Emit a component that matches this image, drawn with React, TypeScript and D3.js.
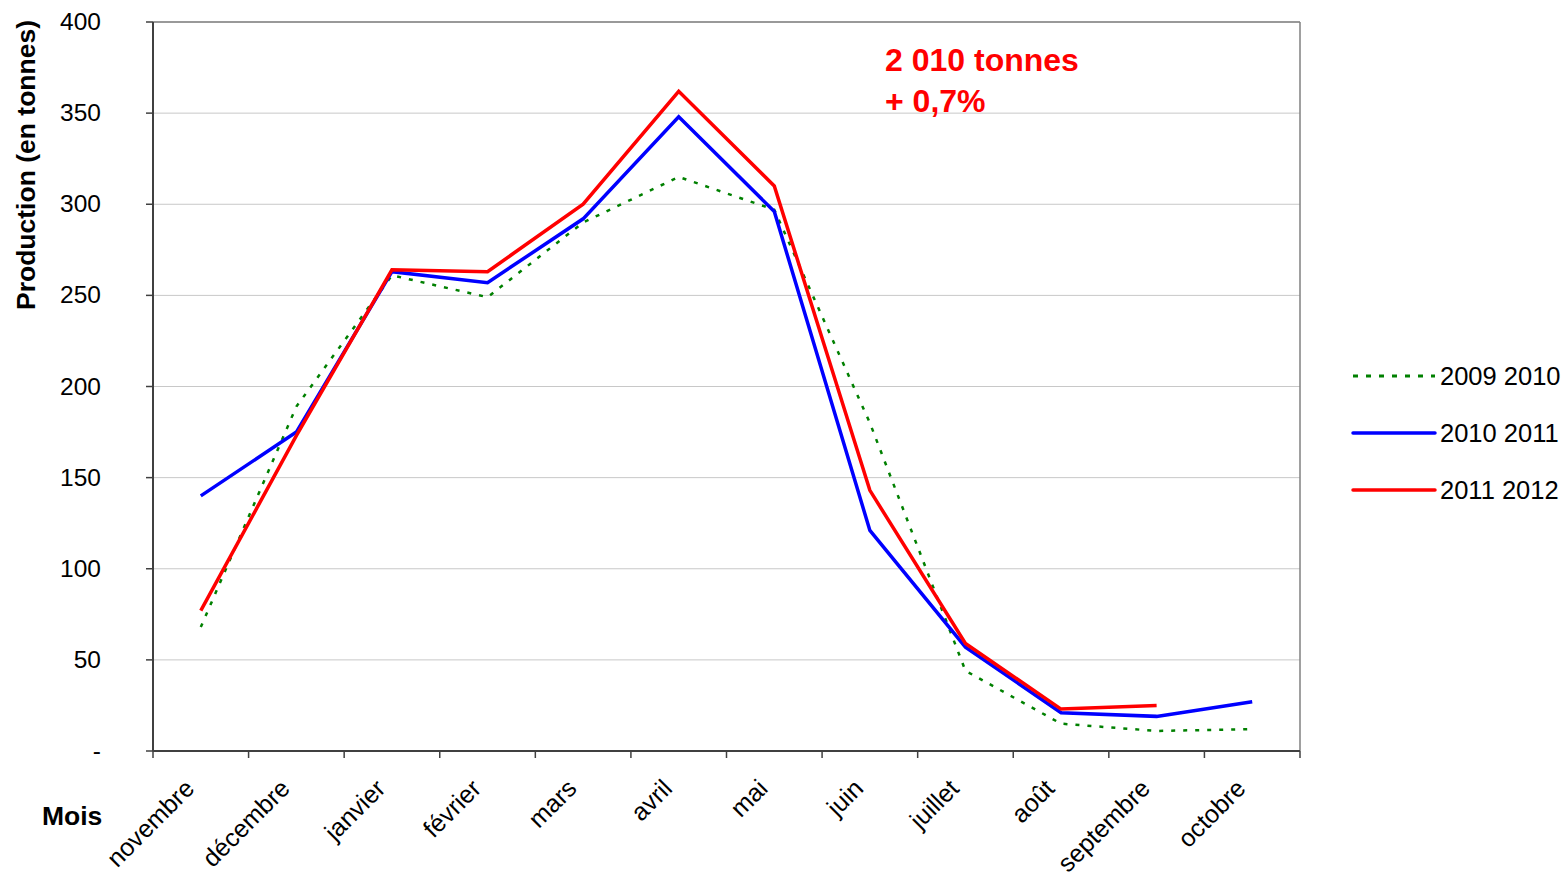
import { useMemo } from 'react';
import * as d3 from 'd3';

// Months on the x axis (season november -> october)
const MONTHS = [
  'novembre', 'décembre', 'janvier', 'février', 'mars', 'avril',
  'mai', 'juin', 'juillet', 'août', 'septembre', 'octobre',
];

// Production in tonnes
const S_2009_2010 = [68, 189, 261, 249, 290, 315, 297, 180, 44, 15, 11, 12];
const S_2010_2011 = [140, 175, 263, 257, 292, 348, 296, 121, 57, 21, 19, 27];
const S_2011_2012 = [77, 173, 264, 263, 300, 362, 310, 143, 59, 23, 25, null];

const Y_TICKS = [0, 50, 100, 150, 200, 250, 300, 350, 400];

const SERIES = [
  { name: '2009 2010', values: S_2009_2010, color: '#008000', width: 2.5, dash: '4,8' },
  { name: '2010 2011', values: S_2010_2011, color: '#0000ff', width: 3.5, dash: null },
  { name: '2011 2012', values: S_2011_2012, color: '#ff0000', width: 3.5, dash: null },
];

const W = 1565;
const H = 881;
const FONT = 'Liberation Sans, Arial, sans-serif';

export default function App() {
  const margin = { top: 22, right: 265, bottom: 130, left: 153 };
  const x = useMemo(
    () => d3.scaleBand<string>().domain(MONTHS).range([margin.left, W - margin.right]),
    [],
  );
  const y = useMemo(
    () => d3.scaleLinear().domain([0, 400]).range([H - margin.bottom, margin.top]),
    [],
  );

  const line = d3.line<number | null>()
    .defined((d) => d != null)
    .x((_, i) => (x(MONTHS[i]) as number) + x.bandwidth() / 2)
    .y((d) => y(d as number));

  const x0 = x.range()[0];
  const x1 = x.range()[1];
  const yBottom = y(0);
  const yTop = y(400);

  return (
    <div style={{ position: 'absolute', left: 0, top: 0 }}>
      <svg width={W} height={H} style={{ display: 'block', background: '#fff' }} fontFamily={FONT}>
        {/* grid */}
        {Y_TICKS.filter((t) => t > 0).map((t) => (
          <line key={`g${t}`} x1={x0} x2={x1} y1={y(t)} y2={y(t)} stroke="#c8c8c8" strokeWidth={1} />
        ))}
        {/* plot frame (top and right) */}
        <line x1={x0} x2={x1} y1={yTop} y2={yTop} stroke="#808080" strokeWidth={1.5} />
        <line x1={x1} x2={x1} y1={yTop} y2={yBottom} stroke="#808080" strokeWidth={1.5} />

        {/* y axis */}
        <line x1={x0} x2={x0} y1={yTop} y2={yBottom} stroke="#404040" strokeWidth={2} />
        {Y_TICKS.map((t) => (
          <g key={`y${t}`}>
            <line x1={x0 - 7} x2={x0} y1={y(t)} y2={y(t)} stroke="#404040" strokeWidth={1.5} />
            <text x={101} y={y(t) + 8} textAnchor="end" fontSize={24.5} fill="#000">
              {t === 0 ? '-' : t}
            </text>
          </g>
        ))}

        {/* x axis */}
        <line x1={x0} x2={x1} y1={yBottom} y2={yBottom} stroke="#404040" strokeWidth={2} />
        {MONTHS.map((m) => (
          <line
            key={`xt${m}`}
            x1={x(m) as number}
            x2={x(m) as number}
            y1={yBottom}
            y2={yBottom + 7}
            stroke="#404040"
            strokeWidth={1.5}
          />
        ))}
        <line x1={x1} x2={x1} y1={yBottom} y2={yBottom + 7} stroke="#404040" strokeWidth={1.5} />
        {MONTHS.map((m) => {
          const cx = (x(m) as number) + x.bandwidth() / 2;
          return (
            <text
              key={`xl${m}`}
              transform={`translate(${cx - 5},${yBottom + 39}) rotate(-45)`}
              textAnchor="end"
              fontSize={25}
              fill="#000"
            >
              {m}
            </text>
          );
        })}

        {/* axis titles */}
        <text
          transform="translate(35,165) rotate(-90)"
          textAnchor="middle"
          fontSize={26.5}
          fontWeight="bold"
          fill="#000"
        >
          Production (en tonnes)
        </text>
        <text x={42} y={825} fontSize={26.5} fontWeight="bold" fill="#000">Mois</text>

        {/* series */}
        {SERIES.map((s) => (
          <path
            key={s.name}
            d={line(s.values) || ''}
            fill="none"
            stroke={s.color}
            strokeWidth={s.width}
            strokeDasharray={s.dash || undefined}
            strokeLinejoin="miter"
          />
        ))}

        {/* annotation */}
        <text x={885} y={71} fontSize={32} fontWeight="bold" fill="#ff0000">2 010 tonnes</text>
        <text x={885} y={112} fontSize={32} fontWeight="bold" fill="#ff0000">+ 0,7%</text>

        {/* legend */}
        {SERIES.map((s, i) => {
          const ly = 376 + i * 57;
          return (
            <g key={`lg${s.name}`}>
              <line
                x1={1353}
                x2={1435}
                y1={ly}
                y2={ly}
                stroke={s.color}
                strokeWidth={s.dash ? 3 : 3.5}
                strokeDasharray={s.dash ? '5,8' : undefined}
                strokeLinecap={s.dash ? 'butt' : 'round'}
              />
              <text x={1440} y={ly + 9} fontSize={25.5} fill="#000">{s.name}</text>
            </g>
          );
        })}
      </svg>
    </div>
  );
}
